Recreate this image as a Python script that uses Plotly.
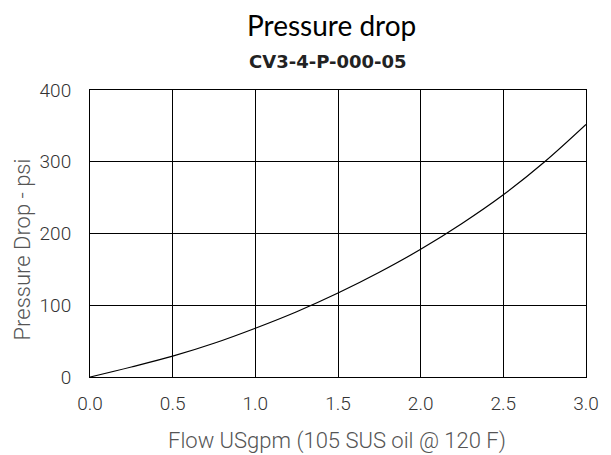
import plotly.graph_objects as go

flow = [0.0, 0.25, 0.5, 0.75, 1.0, 1.25, 1.5, 1.75, 2.0, 2.25, 2.5, 2.75, 3.0]
pressure = [0, 14, 29, 47, 68, 91, 117, 146, 178, 214, 254, 300, 352]
x_ticks = [0.0, 0.5, 1.0, 1.5, 2.0, 2.5, 3.0]
y_ticks = [0, 100, 200, 300, 400]

fig = go.Figure()
fig.add_trace(go.Scatter(x=flow, y=pressure, mode="lines",
                         line=dict(color="black", width=1.2, shape="spline"),
                         showlegend=False, hoverinfo="skip"))

L, R, T, B = 90, 14, 90, 78
W, H = 611, 455
pw = W - L - R
ph = H - T - B


def px(xp):
    return (xp - L) / pw


def py(yp):
    return (H - B - yp) / ph


tick_font = dict(family="Roboto, sans-serif", size=19, color="#333", weight=300)
title_font = dict(family="Roboto, sans-serif", size=22, color="#555", weight=300)
fig.update_layout(
    width=W, height=H,
    margin=dict(l=L, r=R, t=T, b=B),
    paper_bgcolor="white", plot_bgcolor="white",
    annotations=[
        dict(text="Pressure drop", x=px(337), y=py(25), xref="paper", yref="paper",
             xanchor="center", yanchor="middle", showarrow=False,
             font=dict(family="Lato, sans-serif", size=28, color="black")),
        dict(text="<b>CV3-4-P-000-05</b>", x=px(333), y=py(62), xref="paper", yref="paper",
             xanchor="center", yanchor="middle", showarrow=False,
             font=dict(family="DejaVu Sans, sans-serif", size=18, color="#222")),
        dict(text="Flow USgpm (105 SUS oil @ 120 F)", x=px(342), y=py(441), xref="paper", yref="paper",
             xanchor="center", yanchor="middle", showarrow=False, font=title_font),
        dict(text="Pressure Drop - psi", x=px(21), y=py(249), xref="paper", yref="paper",
             xanchor="center", yanchor="middle", showarrow=False, textangle=-90, font=title_font),
    ],
    xaxis=dict(range=[0, 3.0], tickvals=x_ticks, ticktext=[f"{v:.1f}" for v in x_ticks],
               showgrid=True, gridcolor="black", gridwidth=1,
               showline=True, linecolor="black", linewidth=1, mirror=True,
               zeroline=False, ticks="", tickfont=tick_font, ticklabelstandoff=9),
    yaxis=dict(range=[0, 400], tickvals=y_ticks,
               showgrid=True, gridcolor="black", gridwidth=1,
               showline=True, linecolor="black", linewidth=1, mirror=True,
               zeroline=False, ticks="", tickfont=tick_font, ticklabelstandoff=14),
)

fig.write_html("out.html", config={"displayModeBar": False},
               post_script="document.body.style.margin='0';document.body.style.overflow='hidden';")
